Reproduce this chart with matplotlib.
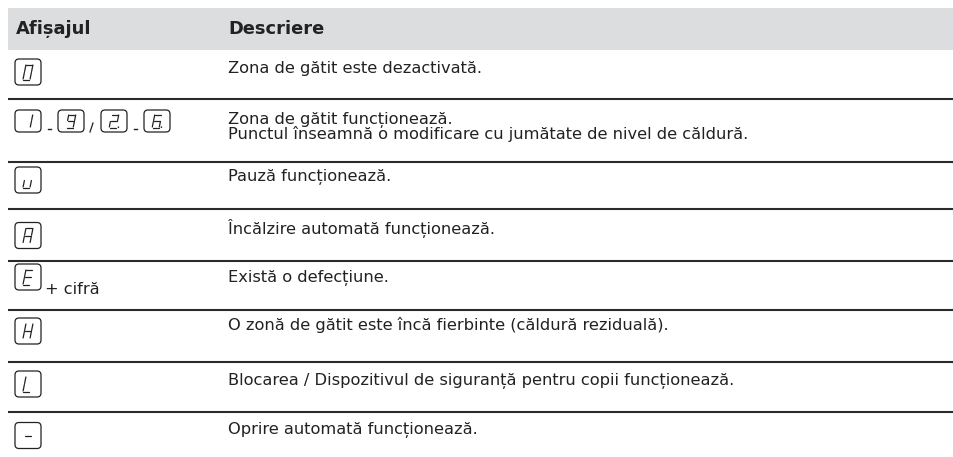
import matplotlib.pyplot as plt
import matplotlib.patches as patches

plt.rcParams['font.family'] = ['DejaVu Sans']

W, H = 954, 457

headers = ['Afișajul', 'Descriere']

# display column: ('box', glyph) is a framed 7-segment symbol, ('sep', ch) a small separator
displays = [
    [('box', '0')],
    [('box', '1'), ('sep', '-'), ('box', '9'), ('sep', '/'),
     ('box', '2.'), ('sep', '-'), ('box', '6.')],
    [('box', 'u')],
    [('box', 'A')],
    [('box', 'E')],
    [('box', 'H')],
    [('box', 'L')],
    [('box', '-')],
]
suffixes = ['', '', '', '', '+ cifră', '', '', '']

descriptions = [
    'Zona de gătit este dezactivată.',
    'Zona de gătit funcționează.\nPunctul înseamnă o modificare cu jumătate de nivel de căldură.',
    'Pauză funcționează.',
    'Încălzire automată funcționează.',
    'Există o defecțiune.',
    'O zonă de gătit este încă fierbinte (căldură reziduală).',
    'Blocarea / Dispozitivul de siguranță pentru copii funcționează.',
    'Oprire automată funcționează.',
]

# layout (pixels); text_base is the baseline of the last text line in a row
row_lines = [99, 162, 209, 261, 310, 362, 412]
text_base = [73, 139.5, 181, 233.5, 281.5, 330, 385, 434]
icon_cy = [72, 121, 180, 235.5, 277, 331, 384, 435.5]
icon_h = [26, 22, 26, 26, 26, 26, 26, 26]
BODY, HEAD = 11.7, 12.9

SEG = {
    'a': ((0, 1), (1, 1)), 'b': ((1, 1), (1, .5)), 'c': ((1, .5), (1, 0)),
    'd': ((1, 0), (0, 0)), 'e': ((0, 0), (0, .5)), 'f': ((0, .5), (0, 1)),
    'g': ((0, .5), (1, .5)),
}
DIGITS = {'0': 'abcdef', '1': 'bc', '2': 'abdeg', '6': 'acdefg', '9': 'abcdfg',
          'u': 'cde', 'A': 'abcefg', 'E': 'adefg', 'H': 'bcefg', 'L': 'def', '-': 'g'}

INK = '#222222'


def draw_glyph(ax, ch, cx, cy, gh):
    gw, skew, gap = 7, 0.2, 0.5
    def tr(u, v):
        return (cx + (u - 0.5) * gw + skew * (v - 0.5) * gh, cy - (v - 0.5) * gh)
    for s in DIGITS[ch[0]]:
        (u0, v0), (u1, v1) = SEG[s]
        x0, y0 = tr(u0, v0)
        x1, y1 = tr(u1, v1)
        L = ((x1 - x0) ** 2 + (y1 - y0) ** 2) ** 0.5
        dx, dy = (x1 - x0) / L * gap, (y1 - y0) / L * gap
        ax.plot([x0 + dx, x1 - dx], [y0 + dy, y1 - dy], color=INK, lw=0.9,
                solid_capstyle='round')
    if ch.endswith('.'):
        px, py = tr(1, 0)
        ax.add_patch(patches.Circle((px + 2.2, py - 0.3), 0.8, color=INK, lw=0))


def draw_box(ax, ch, x, cy, bh, bw=26):
    ax.add_patch(patches.FancyBboxPatch((x, cy - bh / 2), bw, bh,
                                        boxstyle='round,pad=0,rounding_size=4',
                                        fc='white', ec=INK, lw=0.9))
    draw_glyph(ax, ch, x + bw / 2, cy, min(15, bh - 9))


fig = plt.figure(figsize=(W / 100, H / 100), dpi=100)
ax = fig.add_axes([0, 0, 1, 1])
ax.set_xlim(0, W)
ax.set_ylim(H, 0)
ax.axis('off')

# header band
ax.add_patch(patches.Rectangle((8, 8), W - 8, 42, fc='#dcdddf', ec='none'))
ax.text(16, 34, headers[0], fontsize=HEAD, fontweight='bold', color=INK, va='baseline')
ax.text(228, 34, headers[1], fontsize=HEAD, fontweight='bold', color=INK, va='baseline')

for y in row_lines:
    ax.plot([8, W], [y, y], color='#2b2b2b', lw=1.5, solid_capstyle='butt')

for i, items in enumerate(displays):
    x = 15
    cy, bh = icon_cy[i], icon_h[i]
    for kind, ch in items:
        if kind == 'box':
            draw_box(ax, ch, x, cy, bh)
            x += 26
        else:
            bot = cy + bh / 2
            if ch == '-':
                ax.plot([x + 7, x + 10], [bot - 3, bot - 3], color=INK, lw=1.0)
            else:
                ax.plot([x + 6, x + 9], [bot, bot - 9], color=INK, lw=0.9)
            x += 17
    if suffixes[i]:
        ax.text(x + 4, text_base[i] + 13, suffixes[i], fontsize=BODY, color=INK,
                va='baseline')

    ax.text(228, text_base[i], descriptions[i], fontsize=BODY, color=INK,
            va='baseline', linespacing=0.88)

fig.savefig('out.png', dpi=100)
